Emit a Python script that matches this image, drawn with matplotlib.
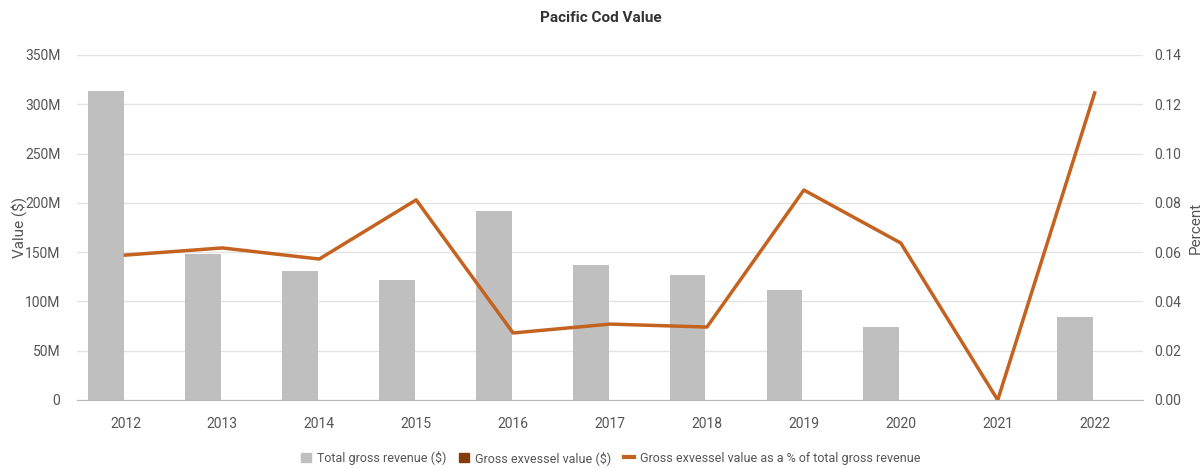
import matplotlib.pyplot as plt
import matplotlib.ticker as mticker
from matplotlib.lines import Line2D
from matplotlib.patches import Patch
import numpy as np

plt.rcParams['font.family'] = ['Roboto', 'DejaVu Sans']

years = ['2012', '2013', '2014', '2015', '2016', '2017', '2018', '2019', '2020', '2021', '2022']
# total gross revenue, $
revenue = [313e6, 148e6, 131e6, 122e6, 192e6, 137e6, 127e6, 111.5e6, 74.5e6, 0, 84.5e6]
# gross exvessel value as % of total gross revenue
pct = [0.0588, 0.0617, 0.0572, 0.0812, 0.0272, 0.0308, 0.0296, 0.0852, 0.0637, 0.0, 0.1246]
# gross exvessel value, $ (tiny next to revenue)
exvessel = [r * p / 100 for r, p in zip(revenue, pct)]

gray = '#bfbfbf'
brown = '#843c0c'
orange = '#c4621f'
txt = '#555555'

fig = plt.figure(figsize=(12.02, 4.68), dpi=100)
ax = fig.add_axes([0.064, 0.1453, 0.887, 0.7372])
x = np.arange(len(years))
ax.bar(x - 0.2, revenue, width=0.37, color=gray, zorder=2)
ax.bar(x + 0.2, exvessel, width=0.37, color=brown, zorder=2)

ax.set_xlim(-0.5, 10.5)
ax.set_ylim(0, 350e6)
ax.set_yticks(np.arange(0, 351e6, 50e6))
ax.yaxis.set_major_formatter(mticker.FuncFormatter(lambda v, p: '0' if v == 0 else f'{v/1e6:.0f}M'))
ax.set_xticks(x)
ax.set_xticklabels(years)
ax.grid(axis='y', color='#e3e3e3', linewidth=1, zorder=0)
for s in ['top', 'right', 'left']:
    ax.spines[s].set_visible(False)
ax.spines['bottom'].set_color('#bbbbbb')
ax.tick_params(axis='y', length=0, pad=12, labelsize=10, labelcolor=txt)
ax.tick_params(axis='x', length=0, pad=12, labelsize=10, labelcolor=txt)
ax.set_ylabel('Value ($)', fontsize=11, color=txt)
ax.yaxis.set_label_coords(-0.047, 0.5)

ax2 = ax.twinx()
ax2.plot(x, pct, color=orange, linewidth=2.5, zorder=3)
ax2.set_ylim(0, 0.14)
ax2.set_yticks(np.arange(0, 0.141, 0.02))
ax2.yaxis.set_major_formatter(mticker.FormatStrFormatter('%.2f'))
for s in ['top', 'right', 'left', 'bottom']:
    ax2.spines[s].set_visible(False)
ax2.tick_params(axis='y', length=0, pad=8, labelsize=10, labelcolor=txt)
ax2.set_ylabel('Percent', fontsize=11, color=txt)
ax2.yaxis.set_label_coords(1.043, 0.5)

fig.text(0.5, 0.962, 'Pacific Cod Value', ha='center', va='center',
         fontsize=11, fontweight='bold', color='#333333')

handles = [Patch(color=gray), Patch(color=brown), Line2D([0], [0], color=orange, linewidth=3)]
labels = ['Total gross revenue ($)', 'Gross exvessel value ($)',
          'Gross exvessel value as a % of total gross revenue']
fig.legend(handles, labels, loc='center', bbox_to_anchor=(0.508, 0.022), ncol=3,
           frameon=False, fontsize=9, labelcolor=txt, handlelength=0.8,
           handleheight=0.8, handletextpad=0.5, columnspacing=1.0)

fig.savefig('out.png', dpi=100)
